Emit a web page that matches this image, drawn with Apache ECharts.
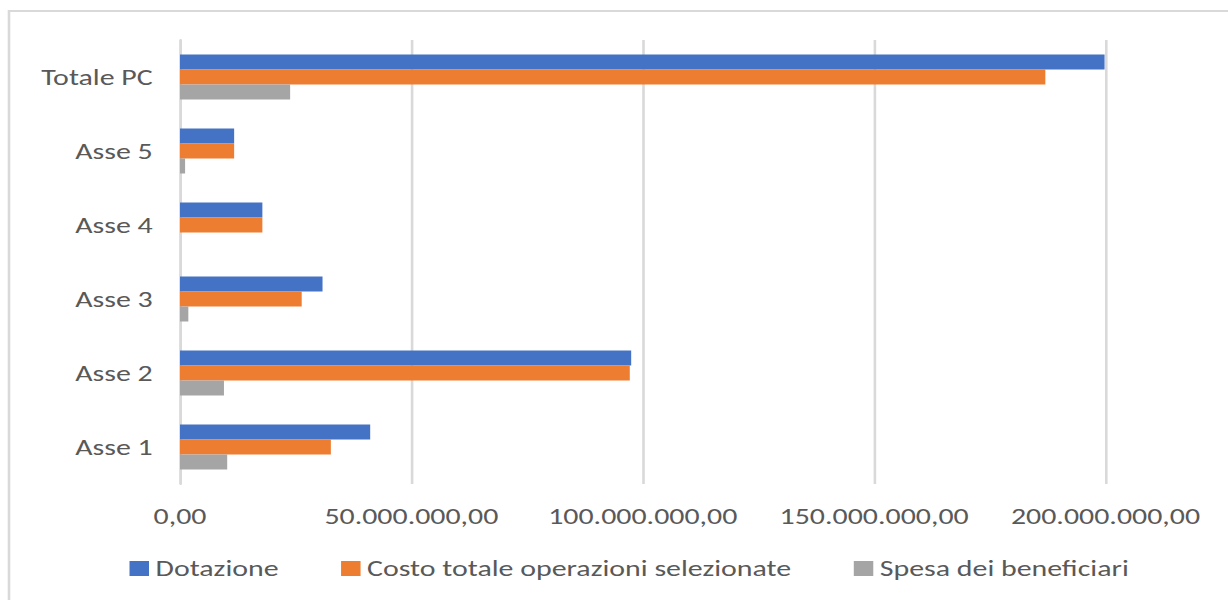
<!DOCTYPE html>
<html>
<head>
<meta charset="utf-8">
<script src="https://cdn.jsdelivr.net/npm/echarts@6/dist/echarts.min.js"></script>
<style>
html,body{margin:0;padding:0;background:#fff;overflow:hidden;}
#wrap{width:1228px;height:600px;overflow:hidden;position:relative;}
/* The reference picture is horizontally stretched; draw at a narrower width and stretch back */
#chart{width:944.6px;height:600px;transform:scaleX(1.3);transform-origin:0 0;}
</style>
</head>
<body>
<div id="wrap"><div id="chart"></div></div>
<script>
const categories = ['Asse 1', 'Asse 2', 'Asse 3', 'Asse 4', 'Asse 5', 'Totale PC'];
const seriesNames = ['Dotazione', 'Costo totale operazioni selezionate', 'Spesa dei beneficiari'];
const dotazione = [41100000, 97500000, 30800000, 17800000, 11700000, 199800000];
const costoTotale = [32600000, 97200000, 26300000, 17800000, 11700000, 187000000];
const spesaBeneficiari = [10200000, 9500000, 1800000, 0, 1100000, 23800000];
const tickValues = [0, 50000000, 100000000, 150000000, 200000000];
const colors = ['#4472C4', '#ED7D31', '#A5A5A5'];

function fmtIt(v) {
  const int = Math.round(v).toString().replace(/\B(?=(\d{3})+(?!\d))/g, '.');
  return int + ',00';
}

const S = 1.3; // horizontal stretch
const font = 'Calibri, Carlito, "Open Sans", sans-serif';
const chart = echarts.init(document.getElementById('chart'), null, { renderer: 'svg' });
const dataBySeries = [dotazione, costoTotale, spesaBeneficiari];
chart.setOption({
  animation: false,
  graphic: [{
    type: 'rect',
    shape: { x: 9 / S, y: 11, width: 1400, height: 800 },
    style: { fill: 'none', stroke: '#d9d9d9', lineWidth: 2 },
    silent: true
  }],
  legend: {
    data: seriesNames,
    top: 552,
    left: 123 / S,
    itemWidth: 15,
    itemHeight: 15,
    itemGap: 48,
    icon: 'rect',
    textStyle: { color: '#595959', fontSize: 23, fontFamily: font }
  },
  grid: { left: 180 / S, right: 123 / S, top: 40, bottom: 116, containLabel: false },
  xAxis: {
    type: 'value',
    min: 0,
    max: tickValues[tickValues.length - 1],
    interval: tickValues[1] - tickValues[0],
    axisLine: { show: false },
    axisTick: { show: false },
    splitLine: { show: true, lineStyle: { color: '#d9d9d9', width: 2 } },
    axisLabel: {
      color: '#595959', fontSize: 23, fontFamily: font, margin: 21,
      formatter: fmtIt
    }
  },
  yAxis: {
    type: 'category',
    data: categories,
    axisLine: { show: true, lineStyle: { color: '#d9d9d9', width: 2 } },
    axisTick: { show: false },
    axisLabel: { color: '#595959', fontSize: 23, fontFamily: font, margin: 21 }
  },
  series: seriesNames.map((n, i) => ({
    name: n,
    type: 'bar',
    data: dataBySeries[i],
    itemStyle: { color: colors[i] },
    barWidth: 15,
    barGap: '0%',
    barCategoryGap: '39%'
  }))
});
</script>
</body>
</html>
